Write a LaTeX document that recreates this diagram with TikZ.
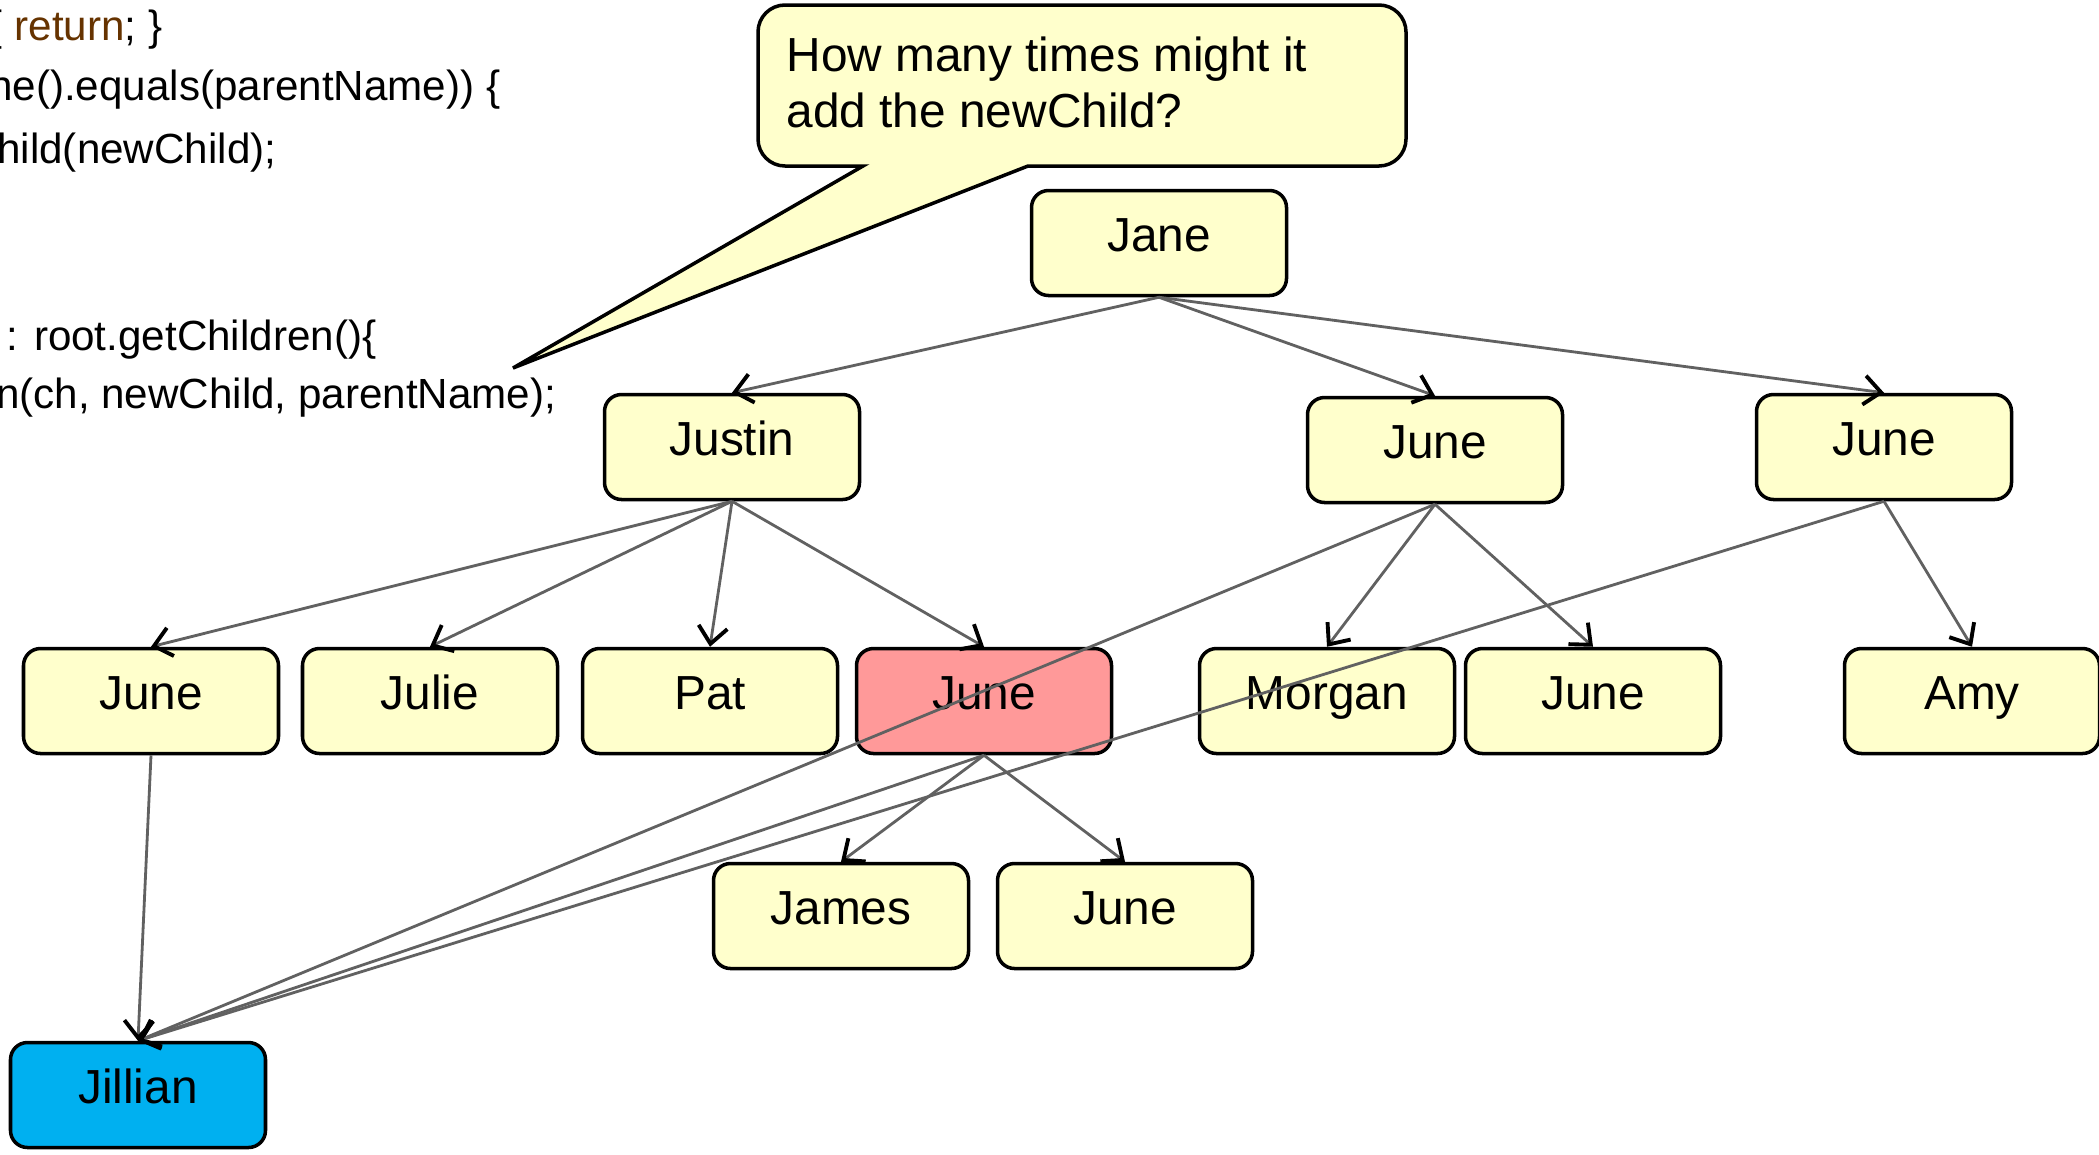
\documentclass[tikz,border=0pt]{standalone}
\usepackage{fontspec}
\setmainfont{Liberation Sans}
\usetikzlibrary{arrows.meta}
\definecolor{noteyellow}{HTML}{FFFFCC}
\definecolor{hitred}{HTML}{FF9999}
\definecolor{newblue}{HTML}{00B0F0}
\definecolor{keybrown}{HTML}{663300}
\begin{document}
\begin{tikzpicture}[
  person/.style={draw, line width=1pt, rounded corners=0.17cm, fill=noteyellow, minimum width=2.55cm, inner xsep=0pt, inner ysep=0pt, text height=0.61cm, text depth=0.44cm, font=\fontsize{13.6}{16}\selectfont},
  link/.style={draw=black!62, line width=0.8pt, -{Straight Barb[black,length=1.7mm,width=2.9mm,line width=1.1pt]}},
  code/.style={anchor=base east, inner sep=0pt, font=\fontsize{12}{14}\selectfont}
]
\useasboundingbox (0,0) rectangle (20.99,-11.54);
\clip (0,0) rectangle (20.99,-11.54);
% Code behind the note
\node[code] (code-1) at (1.63,-0.40) {\{ {\color{keybrown}return}; \}};
\node[code] (code-2) at (5.01,-1.00) {ne().equals(parentName)) \{};
\node[code] (code-3) at (2.77,-1.63) {hild(newChild);};
\node[code] (code-4) at (3.77,-3.50) {: root.getChildren()\{};
\node[code] (code-5) at (5.57,-4.08) {n(ch, newChild, parentName);};
% Speech bubble
\coordinate (tip) at (5.13,-3.68);
\coordinate (base-left) at (8.63,-1.66);
\coordinate (base-right) at (10.28,-1.66);
\draw[fill=noteyellow, line width=1pt] (tip) -- (base-left) -- (7.85,-1.66) arc[start angle=270,end angle=180,radius=0.27] -- (7.58,-0.32) arc[start angle=180,end angle=90,radius=0.27] -- (13.79,-0.05) arc[start angle=90,end angle=0,radius=0.27] -- (14.06,-1.39) arc[start angle=0,end angle=-90,radius=0.27] -- (base-right) -- cycle;
\node[anchor=north west, align=left, inner sep=0pt, font=\fontsize{13.6}{15.9}\selectfont] (question) at (7.86,-0.36) {How many times might it\\add the newChild?};
% Tree
\node[person] (jane) at (11.59,-2.43) {Jane};
\node[person] (justin) at (7.32,-4.47) {Justin};
\node[person] (june-mid) at (14.35,-4.50) {June};
\node[person] (june-right) at (18.84,-4.47) {June};
\node[person] (june-a) at (1.51,-7.01) {June};
\node[person] (julie) at (4.30,-7.01) {Julie};
\node[person] (pat) at (7.10,-7.01) {Pat};
\node[person, fill=hitred] (june-hit) at (9.84,-7.01) {June};
\node[person] (morgan) at (13.27,-7.01) {Morgan};
\node[person] (june-b) at (15.93,-7.01) {June};
\node[person] (amy) at (19.72,-7.01) {Amy};
\node[person] (james) at (8.41,-9.16) {James};
\node[person] (june-c) at (11.25,-9.16) {June};
\node[person, fill=newblue] (jillian) at (1.38,-10.95) {Jillian};
% Edges
\draw[link] (jane.south) -- (justin.north);
\draw[link] (jane.south) -- (june-mid.north);
\draw[link] (jane.south) -- (june-right.north);
\draw[link] (justin.south) -- (june-a.north);
\draw[link] (justin.south) -- (julie.north);
\draw[link] (justin.south) -- (pat.north);
\draw[link] (justin.south) -- (june-hit.north);
\draw[link] (june-mid.south) -- (morgan.north);
\draw[link] (june-mid.south) -- (june-b.north);
\draw[link] (june-mid.south) -- (jillian.north);
\draw[link] (june-right.south) -- (amy.north);
\draw[link] (june-right.south) -- (jillian.north);
\draw[link] (june-hit.south) -- (james.north);
\draw[link] (june-hit.south) -- (june-c.north);
\draw[link] (june-hit.south) -- (jillian.north);
\draw[link] (june-a.south) -- (jillian.north);
\end{tikzpicture}
\end{document}
